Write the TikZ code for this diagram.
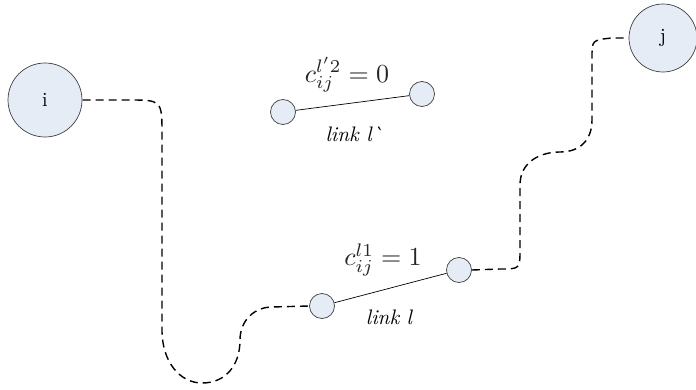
\documentclass[tikz,border=0pt]{standalone}
\begin{document}
\begin{tikzpicture}[x=1pt,y=-1pt,
  bignode/.style={circle,draw=black!75,fill=nodefill,line width=0.7pt,minimum size=#1,inner sep=0pt,scale=2},
  smallnode/.style={circle,draw=black!75,fill=nodefill,line width=0.7pt,minimum size=25pt,inner sep=0pt},
  route/.style={line width=1.4pt,dash pattern=on 8pt off 5pt},
  linkline/.style={line width=0.7pt},
  linklabel/.style={font=\itshape,scale=2.1,inner sep=0pt},
  costlabel/.style={text=black!85,scale=2.6,inner sep=0pt}]
\definecolor{nodefill}{HTML}{E6ECF6}
\useasboundingbox (0,0) rectangle (696,390);
\node[bignode=37pt] (i) at (45,100) {i};
\node[bignode=34pt] (j) at (663,38) {j};
\node[smallnode] (a1) at (283,112) {};
\node[smallnode] (a2) at (422,94) {};
\node[smallnode] (b1) at (322,306) {};
\node[smallnode] (b2) at (459,270) {};
\draw[linkline] (a1) -- (a2);
\draw[linkline] (b1) -- (b2);
\node[costlabel] (ca) at (347,75) {$c_{ij}^{l'2}=0$};
\node[linklabel] (la) at (354,134) {link l\textasciigrave};
\node[costlabel] (cb) at (383,260) {$c_{ij}^{l1}=1$};
\node[linklabel] (lb) at (389,317) {link l};
\draw[route] (i.east) -- (128,100) .. controls (162,100) .. (162,135) -- (162,330)
  .. controls (162,362) and (180,383) .. (202,383)
  .. controls (226,383) and (240,365) .. (240,340)
  .. controls (240,320) and (255,307) .. (272,307) -- (b1.west);
\draw[route] (b2.east) -- (500,269) .. controls (520,269) .. (520,249) -- (520,185)
  .. controls (520,162) and (540,152) .. (560,152)
  .. controls (580,152) and (592,140) .. (592,120) -- (592,58)
  .. controls (592,40) .. (612,38) -- (j.west);
\end{tikzpicture}
\end{document}
